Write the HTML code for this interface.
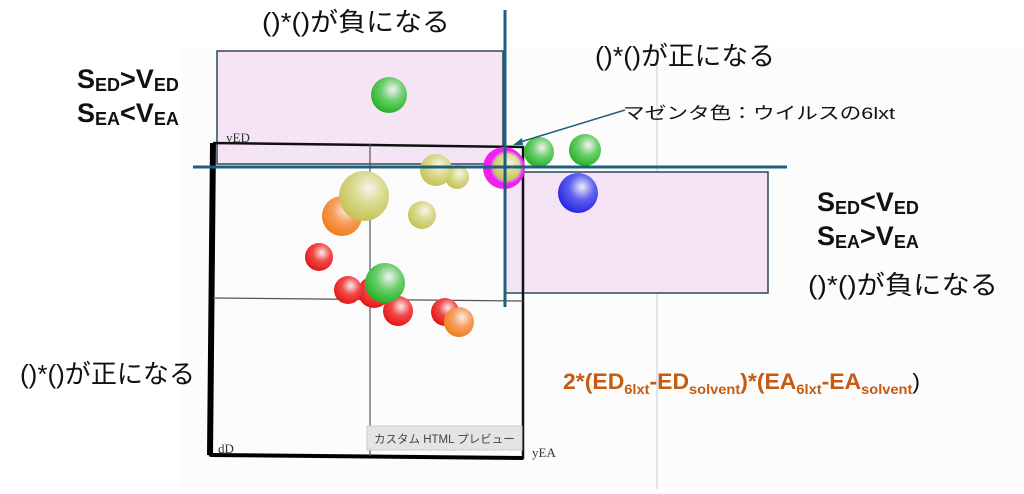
<!DOCTYPE html>
<html><head><meta charset="utf-8"><style>
body{margin:0;width:1024px;height:489px;overflow:hidden;background:#fff;font-family:"Liberation Sans","Noto Sans CJK JP",sans-serif}
</style></head><body>
<svg width="1024" height="489" viewBox="0 0 1024 489" xmlns="http://www.w3.org/2000/svg">
<defs>
<radialGradient id="g" cx="0.6" cy="0.35" r="0.7"><stop offset="0" stop-color="#f4f0f4"/><stop offset="0.45" stop-color="#6ccf6c"/><stop offset="1" stop-color="#1fae1f"/></radialGradient>
<radialGradient id="r" cx="0.6" cy="0.35" r="0.7"><stop offset="0" stop-color="#fbeaea"/><stop offset="0.45" stop-color="#f24a4a"/><stop offset="1" stop-color="#e01010"/></radialGradient>
<radialGradient id="y" cx="0.6" cy="0.35" r="0.7"><stop offset="0" stop-color="#f6f4ea"/><stop offset="0.45" stop-color="#dada90"/><stop offset="1" stop-color="#c4c050"/></radialGradient>
<radialGradient id="o" cx="0.6" cy="0.35" r="0.7"><stop offset="0" stop-color="#fbeee4"/><stop offset="0.45" stop-color="#f7a060"/><stop offset="1" stop-color="#f07a10"/></radialGradient>
<radialGradient id="b" cx="0.6" cy="0.35" r="0.7"><stop offset="0" stop-color="#eeeefa"/><stop offset="0.45" stop-color="#6060f0"/><stop offset="1" stop-color="#2020e0"/></radialGradient>
</defs>
<rect x="182" y="48" width="842" height="441" fill="#fcfcfc"/>
<line x1="657" y1="48" x2="657" y2="489" stroke="#c8c8d8" stroke-width="1"/>
<rect x="217" y="51" width="286" height="113" fill="#f5e4f5" stroke="#2f4858" stroke-width="1.5"/>
<rect x="505" y="172" width="263" height="121" fill="#f5e4f5" stroke="#2f4858" stroke-width="1.5"/>
<polyline points="213,143 523,147 523,458 210,455 213,143" fill="none" stroke="#111" stroke-width="2.5"/>
<line x1="213" y1="143" x2="210" y2="455" stroke="#000" stroke-width="6"/>
<line x1="210" y1="455" x2="523" y2="458" stroke="#000" stroke-width="4"/>
<line x1="370" y1="144" x2="370" y2="456" stroke="#555" stroke-width="1.2"/>
<line x1="213" y1="298" x2="523" y2="301" stroke="#555" stroke-width="1.2"/>
<text x="226" y="142" font-family="Liberation Serif,serif" font-size="13" fill="#333">yED</text>
<text x="218" y="453" font-family="Liberation Serif,serif" font-size="13" fill="#333">dD</text>
<text x="532" y="457" font-family="Liberation Serif,serif" font-size="13" fill="#333">yEA</text>
<circle cx="389" cy="95" r="18" fill="url(#g)"/>
<circle cx="342" cy="216" r="20" fill="url(#o)"/>
<circle cx="364" cy="196" r="25" fill="url(#y)"/>
<circle cx="422" cy="215" r="14" fill="url(#y)"/>
<circle cx="457" cy="177" r="12" fill="url(#y)"/>
<circle cx="436" cy="170" r="16" fill="url(#y)"/>
<circle cx="319" cy="257" r="14" fill="url(#r)"/>
<circle cx="374" cy="292" r="16" fill="url(#r)"/>
<circle cx="348" cy="290" r="14" fill="url(#r)"/>
<circle cx="398" cy="311" r="15" fill="url(#r)"/>
<circle cx="385" cy="283" r="20" fill="url(#g)"/>
<circle cx="445" cy="312" r="14" fill="url(#r)"/>
<circle cx="459" cy="322" r="15" fill="url(#o)"/>
<circle cx="539" cy="152" r="15" fill="url(#g)"/>
<circle cx="585" cy="150" r="16" fill="url(#g)"/>
<circle cx="578" cy="193" r="20" fill="url(#b)"/>
<circle cx="504" cy="168" r="21" fill="#f020f0"/>
<circle cx="507" cy="167" r="16" fill="#e070e0"/>
<circle cx="507" cy="167" r="14" fill="url(#y)"/>
<line x1="193" y1="167" x2="787" y2="167" stroke="#1d5f7e" stroke-width="3"/>
<line x1="505" y1="10" x2="505" y2="307" stroke="#1d5f7e" stroke-width="3"/>
<line x1="625" y1="110" x2="517" y2="143" stroke="#1d5f7e" stroke-width="1.5"/>
<polygon points="513,145 522,138 523,145" fill="#1d5f7e"/>
<text x="623" y="119" font-size="17" fill="#111" textLength="272" lengthAdjust="spacingAndGlyphs">マゼンタ色：ウイルスの6lxt</text>
<rect x="367" y="426" width="155" height="24" fill="#e4e4e4" stroke="#ccc"/>
<text x="374" y="443" font-size="11.5" fill="#444">カスタム HTML プレビュー</text>
<g font-size="26" fill="#111">
<text x="262" y="31" textLength="188" lengthAdjust="spacingAndGlyphs">()*()が負になる</text>
<text x="595" y="65" textLength="180" lengthAdjust="spacingAndGlyphs">()*()が正になる</text>
<text x="808" y="294" textLength="190" lengthAdjust="spacingAndGlyphs">()*()が負になる</text>
<text x="20" y="383" textLength="175" lengthAdjust="spacingAndGlyphs">()*()が正になる</text>
</g>
<g font-weight="bold" fill="#111">
<text x="77" y="88" font-size="27">S<tspan font-size="18" dy="3">ED</tspan><tspan dy="-3">&gt;V</tspan><tspan font-size="18" dy="3">ED</tspan></text>
<text x="77" y="122" font-size="27">S<tspan font-size="18" dy="3">EA</tspan><tspan dy="-3">&lt;V</tspan><tspan font-size="18" dy="3">EA</tspan></text>
<text x="817" y="211" font-size="27">S<tspan font-size="18" dy="3">ED</tspan><tspan dy="-3">&lt;V</tspan><tspan font-size="18" dy="3">ED</tspan></text>
<text x="817" y="245" font-size="27">S<tspan font-size="18" dy="3">EA</tspan><tspan dy="-3">&gt;V</tspan><tspan font-size="18" dy="3">EA</tspan></text>
</g>
<text x="563" y="389" font-size="22" font-weight="bold" fill="#c55a11" textLength="357" lengthAdjust="spacingAndGlyphs">2*(ED<tspan font-size="14" dy="5">6lxt</tspan><tspan dy="-5">-ED</tspan><tspan font-size="14" dy="5">solvent</tspan><tspan dy="-5">)*(EA</tspan><tspan font-size="14" dy="5">6lxt</tspan><tspan dy="-5">-EA</tspan><tspan font-size="14" dy="5">solvent</tspan><tspan dy="-5" font-weight="normal" fill="#111">)</tspan></text>
</svg>
</body></html>
